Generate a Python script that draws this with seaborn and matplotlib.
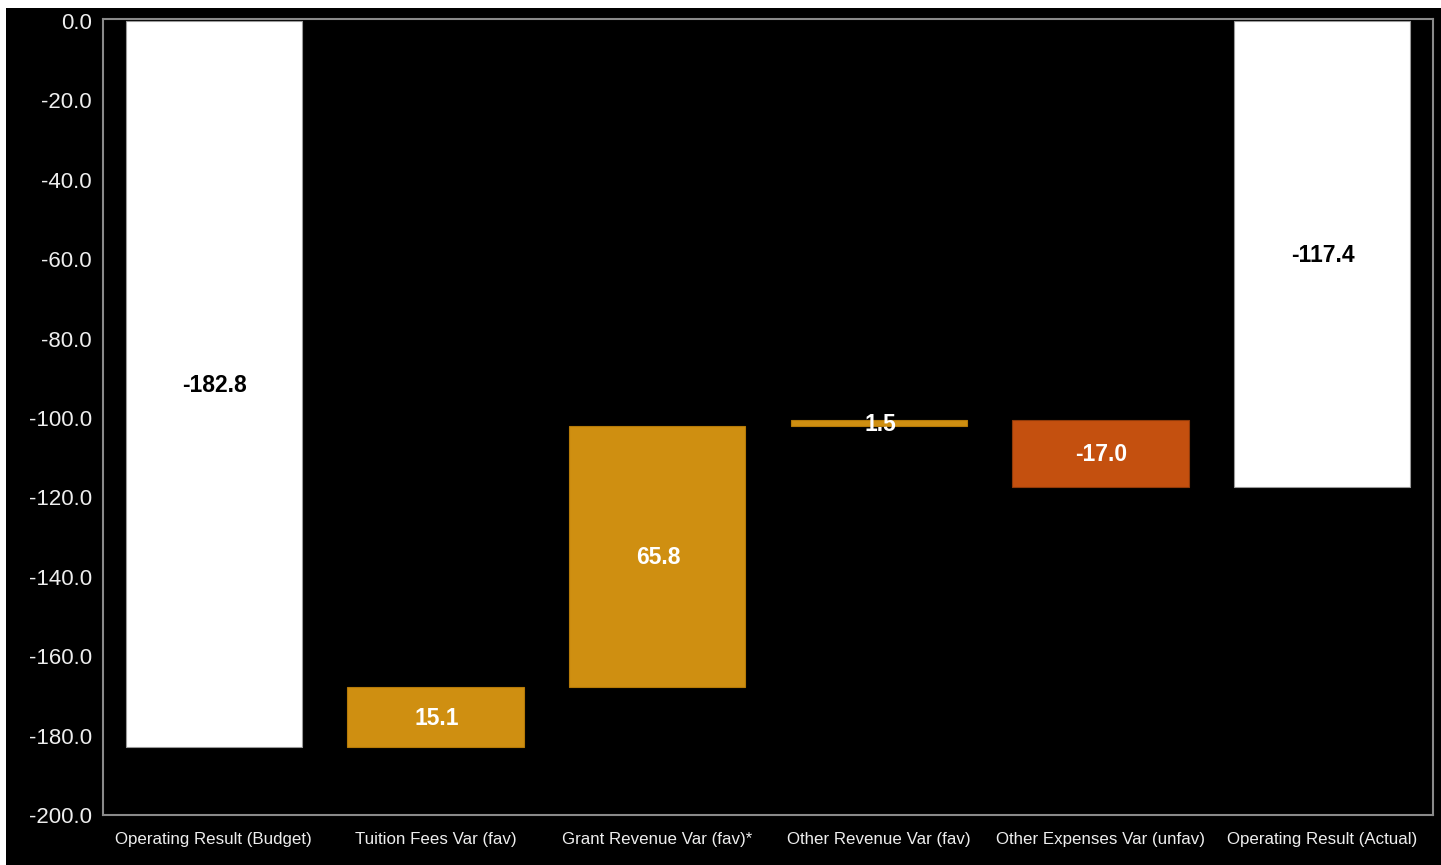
import matplotlib
matplotlib.use("Agg")
import matplotlib.pyplot as plt
import matplotlib.patches as mpatches
import seaborn as sns
import numpy as np

categories = ["Operating Result (Budget)", "Tuition Fees Var (fav)", "Grant Revenue Var (fav)*",
              "Other Revenue Var (fav)", "Other Expenses Var (unfav)", "Operating Result (Actual)"]
budget = -182.8
variances = [15.1, 65.8, 1.5, -17.0]
actual = -117.4
yticks = [0, -20, -40, -60, -80, -100, -120, -140, -160, -180, -200]

WHITE = "#FFFFFF"
GOLD = "#CF8F11"
RUST = "#C4500F"

# build waterfall spans from the data
tops, bottoms, colors, labels, label_colors = [], [], [], [], []
tops.append(0.0); bottoms.append(budget); colors.append(WHITE); labels.append(f"{budget:.1f}"); label_colors.append("black")
running = budget
for v in variances:
    start, end = running, running + v
    tops.append(max(start, end)); bottoms.append(min(start, end))
    colors.append(GOLD if v >= 0 else RUST)
    labels.append(f"{v:.1f}"); label_colors.append("white")
    running = end
tops.append(0.0); bottoms.append(actual); colors.append(WHITE); labels.append(f"{actual:.1f}"); label_colors.append("black")

sns.set_theme(style="dark")
plt.rcParams["font.family"] = ["Liberation Sans", "DejaVu Sans"]

fig = plt.figure(figsize=(14.41, 8.65), dpi=100, facecolor="black")
# white strips at top and left (as in the reference screenshot)
fig.patches.append(mpatches.Rectangle((0, 1 - 8 / 865), 1, 8 / 865, transform=fig.transFigure,
                                      facecolor="white", edgecolor="none", zorder=0))
fig.patches.append(mpatches.Rectangle((0, 0), 6 / 1441, 1, transform=fig.transFigure,
                                      facecolor="white", edgecolor="none", zorder=0))

ax = fig.add_axes([103 / 1441, 1 - 815 / 865, (1433 - 103) / 1441, (815 - 19) / 865])
ax.set_facecolor("black")

edge_map = {WHITE: "#9a9a9a", GOLD: "#b57a08", RUST: "#8f3a0a"}
for cat, t, b, c in zip(categories, tops, bottoms, colors):
    sns.barplot(x=[cat], y=[b - t], bottom=t, order=categories, color=c, saturation=1,
                width=0.795, edgecolor=edge_map[c], linewidth=0.8, ax=ax)

for i, (t, b, lab, lc) in enumerate(zip(tops, bottoms, labels, label_colors)):
    ax.text(i + 0.005, (t + b) / 2 - 0.4, lab, ha="center", va="center", color=lc,
            fontsize=16.5, fontweight="bold")

ax.set_xlim(-0.5, 5.5)
ax.set_ylim(-200, 0.5)
ax.set_yticks(yticks)
ax.set_yticklabels([f"{v:.1f}" for v in yticks])
ax.tick_params(axis="y", labelsize=16, colors="#EEEEEE", length=0, pad=8)
ax.tick_params(axis="x", labelsize=12.2, colors="#EEEEEE", length=0, pad=12)
ax.set_xlabel("")
ax.set_ylabel("")
ax.grid(False)
for s in ax.spines.values():
    s.set_visible(True)
    s.set_color("#8a8a8a")
    s.set_linewidth(1.5)

fig.savefig("out.png", dpi=100, facecolor=fig.get_facecolor())
